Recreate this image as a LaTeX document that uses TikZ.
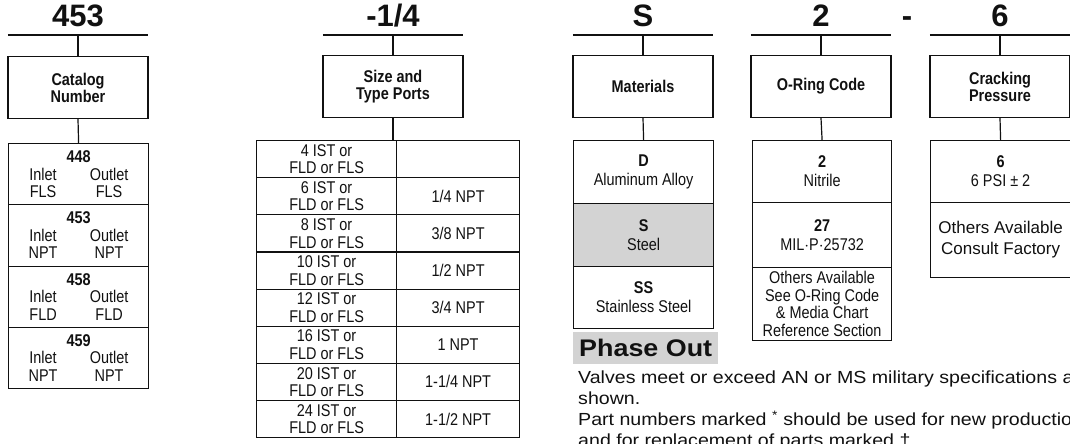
\documentclass[tikz,border=0pt]{standalone}
\usepackage{fontspec}
\setmainfont{Liberation Sans}
\newfontfamily\condfont[FakeStretch=0.85]{Liberation Sans}
\newfontfamily\widefont[FakeStretch=1.12]{Liberation Sans}
\definecolor{ptGray}{HTML}{D3D3D3}
\definecolor{ptInk}{HTML}{111111}

% Catalog row: number over inlet/outlet ports
\newcommand{\portrow}[3]{\textbf{#1}\\\makebox[30pt]{Inlet}\hspace{31pt}\makebox[40pt]{Outlet}\\\makebox[30pt]{#2}\hspace{31pt}\makebox[40pt]{#3}}

\begin{document}
\begin{tikzpicture}[x=1pt, y=-1pt, color=ptInk,
	link/.style={line width=1.2pt},
	headtxt/.style={anchor=base, minimum width=140pt, inner sep=0pt, font=\bfseries\fontsize{31}{31}\selectfont},
	labelbox/.style={draw, line width=1.2pt, anchor=north, minimum width=140pt, minimum height=62pt, align=center, font=\condfont\bfseries\fontsize{17}{17}\selectfont},
	cell/.style={draw, line width=1.2pt, anchor=north west, inner sep=0pt, align=center, font=\condfont\fontsize{17}{19}\selectfont},
	tight/.style={font=\condfont\fontsize{17}{17.5}\selectfont}]
	
	% Canvas
	\useasboundingbox (0,0) rectangle (1070,444);
	\clip (0,0) rectangle (1070,444);
	\fill[white] (0,0) rectangle (1070,444);
	
	% Headings
	\node[headtxt] (hcat) at (78,27) {453};
	\node[headtxt] (hsize) at (393,27) {-1/4};
	\node[headtxt] (hmat) at (643,27) {S};
	\node[headtxt] (hring) at (821,27) {2};
	\node[headtxt, minimum width=0pt] (hdash) at (907,27) {-};
	\node[headtxt] (hcrack) at (1000,27) {6};
	
	% Underlines
	\foreach \h in {hcat, hsize, hmat, hring, hcrack}{
		\draw[link] ([yshift=-8pt]\h.base west) -- ([yshift=-8pt]\h.base east);
	}
	
	% Label boxes, linked up to the headings
	\node[labelbox] (bcat) at (78,56) {Catalog\\Number};
	\node[labelbox] (bsize) at (393,55) {Size and\\Type Ports};
	\node[labelbox] (bmat) at (643,55) {Materials};
	\node[labelbox] (bring) at (821,55) {O-Ring Code};
	\node[labelbox] (bcrack) at (1000,55) {Cracking\\Pressure};
	\foreach \h/\b in {hcat/bcat, hsize/bsize, hmat/bmat, hring/bring, hcrack/bcrack}{
		\draw[link] ([yshift=-8pt]\h.base) -- (\b.north);
	}
	
	% Catalog numbers
	\foreach \c/\a/\o [count=\i] in {448/FLS/FLS, 453/NPT/NPT, 458/FLD/FLD, 459/NPT/NPT}{
		\node[cell, tight, minimum width=140pt, minimum height=61.25pt] (cat\i) at (8,{143+61.25*(\i-1)}) {\portrow{\c}{\a}{\o}};
	}
	\draw[link] (bcat.south) -- (cat1.north);
	
	% Size and type ports
	\foreach \s/\n [count=\i] in {4/{}, 6/{1/4 NPT}, 8/{3/8 NPT}, 10/{1/2 NPT}, 12/{3/4 NPT}, 16/{1 NPT}, 20/{1-1/4 NPT}, 24/{1-1/2 NPT}}{
		\node[cell, tight, minimum width=140pt, minimum height=37.125pt] (sz\i) at (256,{140+37.125*(\i-1)}) {\s\ IST or\\FLD or FLS};
		\node[cell, minimum width=123pt, minimum height=37.125pt] (npt\i) at (396,{140+37.125*(\i-1)}) {\n};
	}
	\draw[link] (bsize.south) -- (bsize.south |- sz1.north);
	
	% Materials
	\node[cell, minimum width=140pt, minimum height=63pt] (mat1) at (573,140) {\textbf{D}\\Aluminum Alloy};
	\node[cell, fill=ptGray, minimum width=140pt, minimum height=63pt] (mat2) at (573,203) {\textbf{S}\\Steel};
	\node[cell, minimum width=140pt, minimum height=62pt] (mat3) at (573,266) {\textbf{SS}\\Stainless Steel};
	\draw[link] (bmat.south) -- (mat1.north);
	
	% O-ring codes
	\node[cell, minimum width=139pt, minimum height=62pt] (ring1) at (752,140) {\textbf{2}\\Nitrile};
	\node[cell, minimum width=139pt, minimum height=65pt] (ring2) at (752,202) {\textbf{27}\\MIL$\cdot$P$\cdot$25732};
	\node[cell, tight, minimum width=139pt, minimum height=73pt] (ring3) at (752,267) {Others Available\\See O-Ring Code\\\& Media Chart\\Reference Section};
	\draw[link] (bring.south) -- (ring1.north);
	
	% Cracking pressure
	\node[cell, minimum width=140pt, minimum height=62pt] (crack1) at (930,140) {\textbf{6}\\6 PSI ± 2};
	\node[cell, minimum width=140pt, minimum height=75pt, font=\fontsize{17}{21}\selectfont] (crack2) at (930,202) {Others Available\\Consult Factory};
	\draw[link] (bcrack.south) -- (crack1.north);
	
	% Phase out tag and notes
	\node[fill=ptGray, anchor=north west, minimum width=145pt, minimum height=32pt, inner sep=0pt, font=\widefont\bfseries\fontsize{24}{24}\selectfont] (phase) at (573,332) {Phase Out};
	\node[anchor=north west, inner sep=0pt, align=left, font=\widefont\fontsize{17.5}{21}\selectfont] (notes) at (578,371) {Valves meet or exceed AN or MS military specifications as\\shown.\\Part numbers marked \textsuperscript{*} should be used for new production\\and for replacement of parts marked †.};
\end{tikzpicture}
\end{document}
